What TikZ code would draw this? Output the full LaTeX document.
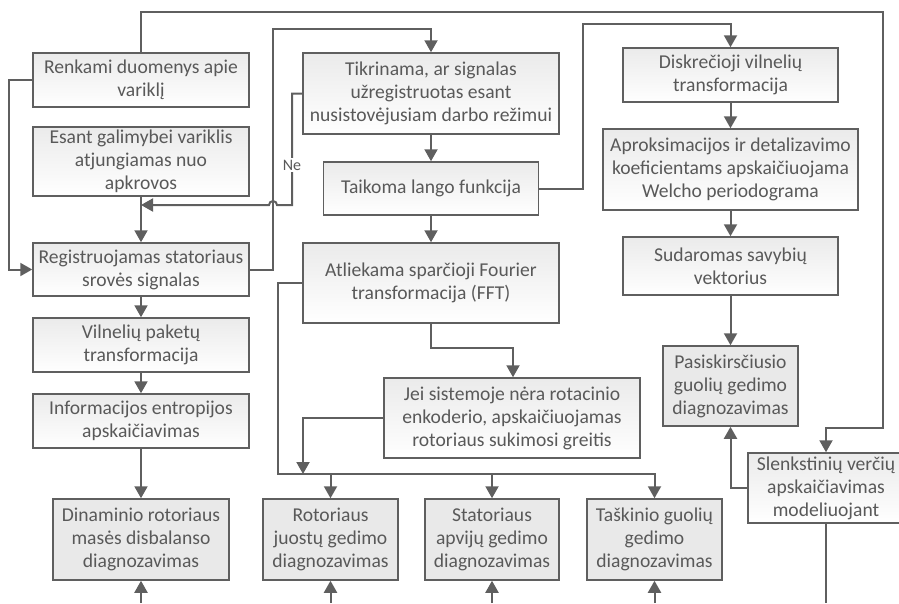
\documentclass[tikz,border=0pt]{standalone}
\usepackage{fontspec}
\setmainfont{Carlito}
\usetikzlibrary{arrows.meta}
\definecolor{txt}{HTML}{595959}
\definecolor{ln}{HTML}{5F5F5F}
\definecolor{diag}{HTML}{E9E9E9}
\begin{document}
\begin{tikzpicture}[x=1pt,y=-1pt,
  proc/.style={draw=ln,line width=1.5pt,left color=gray!16,right color=white,shading angle=0,
    text=txt,align=center,inner sep=0pt,font=\fontsize{19.6}{23}\selectfont},
  diagbox/.style={draw=ln,line width=1.5pt,fill=diag,text=txt,align=center,inner sep=0pt,
    font=\fontsize{19.6}{23}\selectfont},
  conn/.style={draw=ln,line width=2pt},
  arr/.style={conn,-{Triangle[width=13pt,length=12pt]}}]
\useasboundingbox (0,0) rectangle (899,603);
% left column
\node[proc,minimum width=216pt,minimum height=54pt] (ren) at (141,80) {Renkami duomenys apie\\variklį};
\node[proc,minimum width=216pt,minimum height=69pt] (esant) at (141,161.5) {Esant galimybei variklis\\atjungiamas nuo\\apkrovos};
\node[proc,minimum width=216pt,minimum height=53pt] (reg) at (141,269.5) {Registruojamas statoriaus\\srovės signalas};
\node[proc,minimum width=216pt,minimum height=54pt] (vil) at (141,345) {Vilnelių paketų\\transformacija};
\node[proc,minimum width=216pt,minimum height=54pt] (inf) at (141,421) {Informacijos entropijos\\apskaičiavimas};
\node[diagbox,minimum width=176pt,minimum height=81pt] (din) at (141,539.5) {Dinaminio rotoriaus\\masės disbalanso\\diagnozavimas};
% middle column
\node[proc,minimum width=256pt,minimum height=81pt] (tik) at (431,93.5) {Tikrinama, ar signalas\\užregistruotas esant\\nusistovėjusiam darbo režimui};
\node[proc,minimum width=215pt,minimum height=53pt] (tai) at (431,188.5) {Taikoma lango funkcija};
\node[proc,minimum width=256pt,minimum height=80pt] (atl) at (431,283) {Atliekama sparčioji Fourier\\transformacija (FFT)};
\node[proc,minimum width=256pt,minimum height=80pt] (jei) at (512,418) {Jei sistemoje nėra rotacinio\\enkoderio, apskaičiuojamas\\rotoriaus sukimosi greitis};
\node[diagbox,minimum width=135pt,minimum height=81pt] (rot) at (330.5,539.5) {Rotoriaus\\juostų gedimo\\diagnozavimas};
\node[diagbox,minimum width=134pt,minimum height=81pt] (sta) at (492,539.5) {Statoriaus\\apvijų gedimo\\diagnozavimas};
\node[diagbox,minimum width=135pt,minimum height=81pt] (tas) at (654.5,539.5) {Taškinio guolių\\gedimo\\diagnozavimas};
% right column
\node[proc,minimum width=215pt,minimum height=54pt] (dis) at (730.5,75) {Diskrečioji vilnelių\\transformacija};
\node[proc,minimum width=255pt,minimum height=81pt] (apr) at (730.5,169.5) {Aproksimacijos ir detalizavimo\\koeficientams apskaičiuojama\\Welcho periodograma};
\node[proc,minimum width=215pt,minimum height=58pt] (sud) at (730.5,266) {Sudaromas savybių\\vektorius};
\node[diagbox,minimum width=135pt,minimum height=80pt] (pas) at (730.5,386) {Pasiskirsčiusio\\guolių gedimo\\diagnozavimas};
\node[proc,minimum width=156pt,minimum height=70pt] (sle) at (826,488) {Slenkstinių verčių\\apskaičiavimas\\modeliuojant};
% coordinates
\coordinate (b1) at (141,603);
\coordinate (b2) at (330.5,603);
\coordinate (b3) at (492,603);
\coordinate (b4) at (654.5,603);
\coordinate (b5) at (826,603);
% connectors
\draw[arr] (ren.north) |- (883,12) |- (826,428) -- (sle.north);
\draw[arr] (ren.west) -- (9,80) |- (reg.west);
\draw[arr] (esant.south) -- (reg.north);
\draw[arr] (reg.south) -- (vil.north);
\draw[arr] (vil.south) -- (inf.north);
\draw[arr] (inf.south) -- (din.north);
\draw[arr] (reg.east) -- (273,269.5) |- (431,29) -- (tik.north);
\draw[conn] (tik.west) -- (292,93.5) -- (292,205) -- (277,205) arc[start angle=0,end angle=180,radius=4pt] -- (150,205);
\draw[arr] (150,205) -- (141,205);
\node[fill=white,text=txt,inner sep=1.5pt,font=\fontsize{16}{18}\selectfont] (ne) at (292,165) {Ne};
\draw[arr] (tik.south) -- (tai.north);
\draw[arr] (tai.east) -- (583,188.5) |- (730.5,24) -- (dis.north);
\draw[arr] (tai.south) -- (atl.north);
\draw[arr] (atl.south) -- (431,348) -| (jei.north -| 513,0);
\draw[arr] (atl.west) -- (278,283) |- (654.5,474) -- (tas.north);
\draw[arr] (330.5,474) -- (rot.north);
\draw[arr] (492,474) -- (sta.north);
\draw[arr] (jei.west) -- (303,418) -- (303,474);
\draw[arr] (dis.south) -- (apr.north);
\draw[arr] (apr.south) -- (sud.north);
\draw[arr] (sud.south) -- (pas.north);
\draw[arr] (sle.west) -- (730.5,488) -- (pas.south);
\draw[conn] (sle.south) -- (b5);
\draw[arr] (b1) -- (din.south);
\draw[arr] (b2) -- (rot.south);
\draw[arr] (b3) -- (sta.south);
\draw[arr] (b4) -- (tas.south);
\end{tikzpicture}
\end{document}
